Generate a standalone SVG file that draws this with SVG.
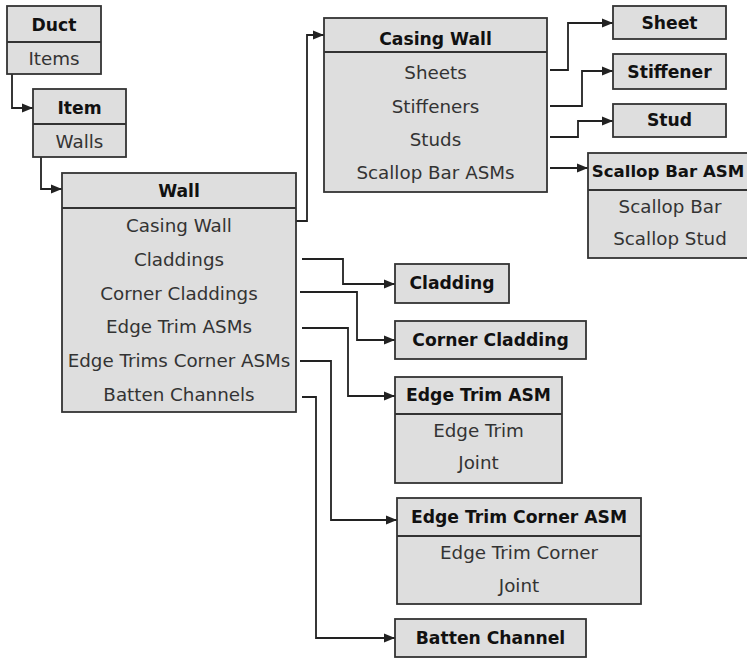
<svg xmlns="http://www.w3.org/2000/svg" width="747" height="658" viewBox="0 0 747 658">
<style>
.box{fill:#dedede;stroke:#333;stroke-width:1.8}
.div{stroke:#333;stroke-width:1.8}
.h{font-family:"DejaVu Sans",Verdana,sans-serif;font-weight:bold;font-size:17.2px;fill:#111;text-anchor:middle}
.t{font-family:"DejaVu Sans",Verdana,sans-serif;font-size:18.3px;fill:#333;text-anchor:middle}
.c{fill:none;stroke:#222;stroke-width:1.8;marker-end:url(#arr)}
</style>
<defs>
<marker id="arr" markerUnits="userSpaceOnUse" markerWidth="12" markerHeight="10" refX="11" refY="5" orient="auto">
<path d="M0,0.5 L11,5 L0,9.5 z" fill="#222"/>
</marker>
</defs>
<rect width="747" height="658" fill="#fff"/>
<g id="connectors">
<path class="c" d="M12,74 V108 H33"/>
<path class="c" d="M41,157 V189 H62"/>
<path class="c" d="M296,221 H307 V35 H324"/>
<path class="c" d="M550,70 H568 V23 H613"/>
<path class="c" d="M550,106 H582 V71 H613"/>
<path class="c" d="M550,137 H578 V121 H613"/>
<path class="c" d="M550,168 H588"/>
<path class="c" d="M302,259 H343 V284 H395"/>
<path class="c" d="M300,292 H357 V340 H395"/>
<path class="c" d="M302,328 H348 V396 H395"/>
<path class="c" d="M300,361 H331 V520 H397"/>
<path class="c" d="M302,397 H316 V638 H395"/>
</g>
<g id="duct">
<rect class="box" x="7" y="6" width="94" height="68"/>
<line class="div" x1="7" y1="42" x2="101" y2="42"/>
<text class="h" x="54" y="31">Duct</text>
<text class="t" x="54" y="65">Items</text>
</g>
<g id="item">
<rect class="box" x="33" y="89" width="93" height="68"/>
<line class="div" x1="33" y1="124" x2="126" y2="124"/>
<text class="h" x="79.5" y="114">Item</text>
<text class="t" x="79.5" y="148">Walls</text>
</g>
<g id="wall">
<rect class="box" x="62" y="173" width="234" height="239"/>
<line class="div" x1="62" y1="208" x2="296" y2="208"/>
<text class="h" x="179" y="197">Wall</text>
<text class="t" x="179" y="232">Casing Wall</text>
<text class="t" x="179" y="266">Claddings</text>
<text class="t" x="179" y="300">Corner Claddings</text>
<text class="t" x="179" y="333">Edge Trim ASMs</text>
<text class="t" x="179" y="367">Edge Trims Corner ASMs</text>
<text class="t" x="179" y="401">Batten Channels</text>
</g>
<g id="casing-wall">
<rect class="box" x="324" y="18" width="223" height="174"/>
<line class="div" x1="324" y1="52" x2="547" y2="52"/>
<text class="h" x="435.5" y="45">Casing Wall</text>
<text class="t" x="435.5" y="79">Sheets</text>
<text class="t" x="435.5" y="113">Stiffeners</text>
<text class="t" x="435.5" y="146">Studs</text>
<text class="t" x="435.5" y="179">Scallop Bar ASMs</text>
</g>
<g id="sheet">
<rect class="box" x="613" y="6" width="113" height="33"/>
<text class="h" x="669.5" y="29">Sheet</text>
</g>
<g id="stiffener">
<rect class="box" x="613" y="54" width="113" height="35"/>
<text class="h" x="669.5" y="78">Stiffener</text>
</g>
<g id="stud">
<rect class="box" x="613" y="104" width="113" height="33"/>
<text class="h" x="669.5" y="126">Stud</text>
</g>
<g id="scallop-bar-asm">
<rect class="box" x="588" y="153" width="164" height="105"/>
<line class="div" x1="588" y1="190" x2="752" y2="190"/>
<text class="h" x="668" y="177" style="font-size:16.6px">Scallop Bar ASM</text>
<text class="t" x="670" y="213">Scallop Bar</text>
<text class="t" x="670" y="245">Scallop Stud</text>
</g>
<g id="cladding">
<rect class="box" x="395" y="264" width="114" height="39"/>
<text class="h" x="452" y="289">Cladding</text>
</g>
<g id="corner-cladding">
<rect class="box" x="395" y="321" width="191" height="38"/>
<text class="h" x="490.5" y="346">Corner Cladding</text>
</g>
<g id="edge-trim-asm">
<rect class="box" x="395" y="377" width="167" height="106"/>
<line class="div" x1="395" y1="414" x2="562" y2="414"/>
<text class="h" x="478.5" y="401">Edge Trim ASM</text>
<text class="t" x="478.5" y="437">Edge Trim</text>
<text class="t" x="478.5" y="469">Joint</text>
</g>
<g id="edge-trim-corner-asm">
<rect class="box" x="397" y="498" width="244" height="106"/>
<line class="div" x1="397" y1="536" x2="641" y2="536"/>
<text class="h" x="519" y="523">Edge Trim Corner ASM</text>
<text class="t" x="519" y="559">Edge Trim Corner</text>
<text class="t" x="519" y="592">Joint</text>
</g>
<g id="batten-channel">
<rect class="box" x="395" y="619" width="191" height="38"/>
<text class="h" x="490.5" y="644">Batten Channel</text>
</g>
</svg>
